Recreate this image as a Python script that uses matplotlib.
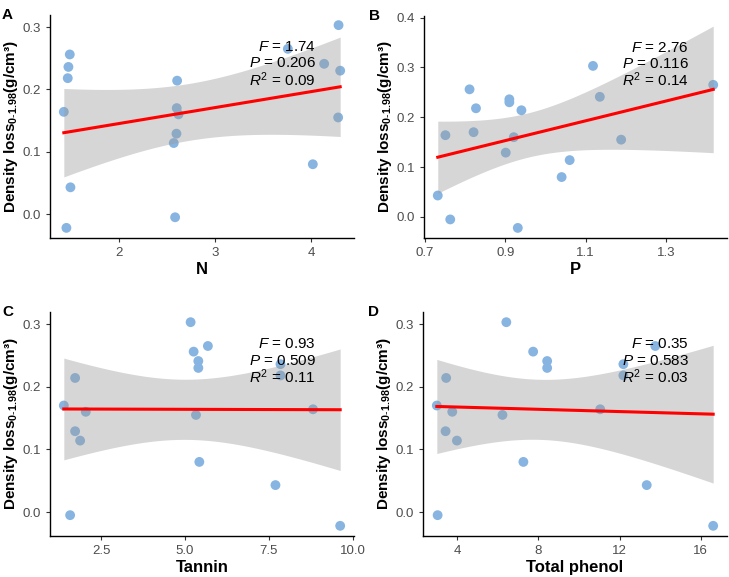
import numpy as np
import matplotlib
matplotlib.use("Agg")
from matplotlib import pyplot as plt

plt.rcParams['font.family'] = ['Liberation Sans', 'DejaVu Sans']
plt.rcParams['mathtext.fontset'] = 'custom'
plt.rcParams['mathtext.rm'] = 'Liberation Sans'
plt.rcParams['mathtext.it'] = 'Liberation Sans:italic'
plt.rcParams['mathtext.bf'] = 'Liberation Sans:bold'

# density loss, same 18 samples in every panel
density_loss = [0.303, 0.265, 0.256, 0.241, 0.236, 0.230, 0.218, 0.214, 0.170,
                0.164, 0.160, 0.155, 0.129, 0.114, 0.080, 0.043, -0.005, -0.022]

n_vals = [4.285, 3.757, 1.486, 4.135, 1.472, 4.302, 1.465, 2.604, 2.600,
          1.424, 2.618, 4.281, 2.597, 2.569, 4.017, 1.493, 2.583, 1.451]
p_vals = [1.118, 1.417, 0.811, 1.135, 0.910, 0.910, 0.827, 0.940, 0.821,
          0.751, 0.921, 1.188, 0.901, 1.060, 1.040, 0.732, 0.763, 0.931]
tannin = [5.17, 5.685, 5.26, 5.40, 7.85, 5.40, 7.85, 1.726, 1.389,
          8.82, 2.044, 5.33, 1.726, 1.875, 5.43, 7.70, 1.577, 9.63]
phenol = [6.43, 13.76, 7.75, 8.44, 12.19, 8.44, 12.19, 3.47, 3.01,
          11.05, 3.77, 6.24, 3.44, 4.00, 7.27, 13.34, 3.05, 16.61]

panel_letters = ['A', 'B', 'C', 'D']
x_titles = ['N', 'P', 'Tannin', 'Total phenol']
f_stats = ['1.74', '2.76', '0.93', '0.35']
p_stats = ['0.206', '0.116', '0.509', '0.583']
r2_stats = ['0.09', '0.14', '0.11', '0.03']
x_ticks = [[2, 3, 4], [0.7, 0.9, 1.1, 1.3], [2.5, 5.0, 7.5, 10.0], [4, 8, 12, 16]]
x_ticklabels = [['2', '3', '4'], ['0.7', '0.9', '1.1', '1.3'],
                ['2.5', '5.0', '7.5', '10.0'], ['4', '8', '12', '16']]
y_ticks = [[0.0, 0.1, 0.2, 0.3], [0.0, 0.1, 0.2, 0.3, 0.4],
           [0.0, 0.1, 0.2, 0.3], [0.0, 0.1, 0.2, 0.3]]

T16 = 2.1199  # t quantile, df = 16, 95%

# axes boxes in pixels (left, top, right, bottom)
W, H = 729, 577
boxes = [(50, 15, 354, 238), (424, 16, 727, 238),
         (50, 312, 354, 536), (423, 312, 727, 536)]

fig = plt.figure(figsize=(W / 100, H / 100), dpi=100)
xs_all = [n_vals, p_vals, tannin, phenol]
y = np.array(density_loss)

for i, xs in enumerate(xs_all):
    l, t, r, b = boxes[i]
    ax = fig.add_axes([l / W, 1 - b / H, (r - l) / W, (b - t) / H])
    x = np.array(xs)

    ax.scatter(x, y, s=50, color='#87b4e0', edgecolors='none', zorder=2)

    # linear fit + 95% confidence ribbon
    slope, icpt = np.polyfit(x, y, 1)
    xg = np.linspace(x.min(), x.max(), 100)
    yg = slope * xg + icpt
    resid = y - (slope * x + icpt)
    s = np.sqrt(np.sum(resid ** 2) / (len(x) - 2))
    se = s * np.sqrt(1 / len(x) + (xg - x.mean()) ** 2 / np.sum((x - x.mean()) ** 2))
    ax.fill_between(xg, yg - T16 * se, yg + T16 * se, color='#999999', alpha=0.4,
                    linewidth=0, zorder=3)
    ax.plot(xg, yg, color='red', lw=2.2, zorder=4)

    ax.set_xticks(x_ticks[i])
    ax.set_xticklabels(x_ticklabels[i])
    ax.set_yticks(y_ticks[i])
    ax.set_yticklabels(['%.1f' % v for v in y_ticks[i]])
    ax.margins(x=0.05, y=0.05)
    for side in ['top', 'right']:
        ax.spines[side].set_visible(False)
    for side in ['left', 'bottom']:
        ax.spines[side].set_linewidth(1.0)
        ax.spines[side].set_color('black')
    ax.tick_params(colors='#333333', labelcolor='#4d4d4d', labelsize=9.5,
                   length=3, width=0.8)

    ax.set_xlabel(x_titles[i], fontsize=12, fontweight='bold', labelpad=2)
    ax.set_ylabel('Density loss$_{\\mathbf{0\\text{-}1.98}}$(g/cm\u00b3)',
                  fontsize=11, fontweight='bold', labelpad=2)

    ax.text(0.875, 0.855, r'$\mathit{F}$ = ' + f_stats[i], transform=ax.transAxes,
            ha='right', va='center', fontsize=11, zorder=5)
    ax.text(0.875, 0.783, r'$\mathit{P}$ = ' + p_stats[i], transform=ax.transAxes,
            ha='right', va='center', fontsize=11, zorder=5)
    ax.text(0.875, 0.711, r'$\mathit{R}^{2}$ = ' + r2_stats[i], transform=ax.transAxes,
            ha='right', va='center', fontsize=11, zorder=5)

    fig.text((l - 48) / W if i % 2 == 0 else (l - 55) / W, 1 - (t - 7) / H,
             panel_letters[i], fontsize=11, fontweight='bold', va='top', ha='left')

fig.savefig('out.png', dpi=100)
